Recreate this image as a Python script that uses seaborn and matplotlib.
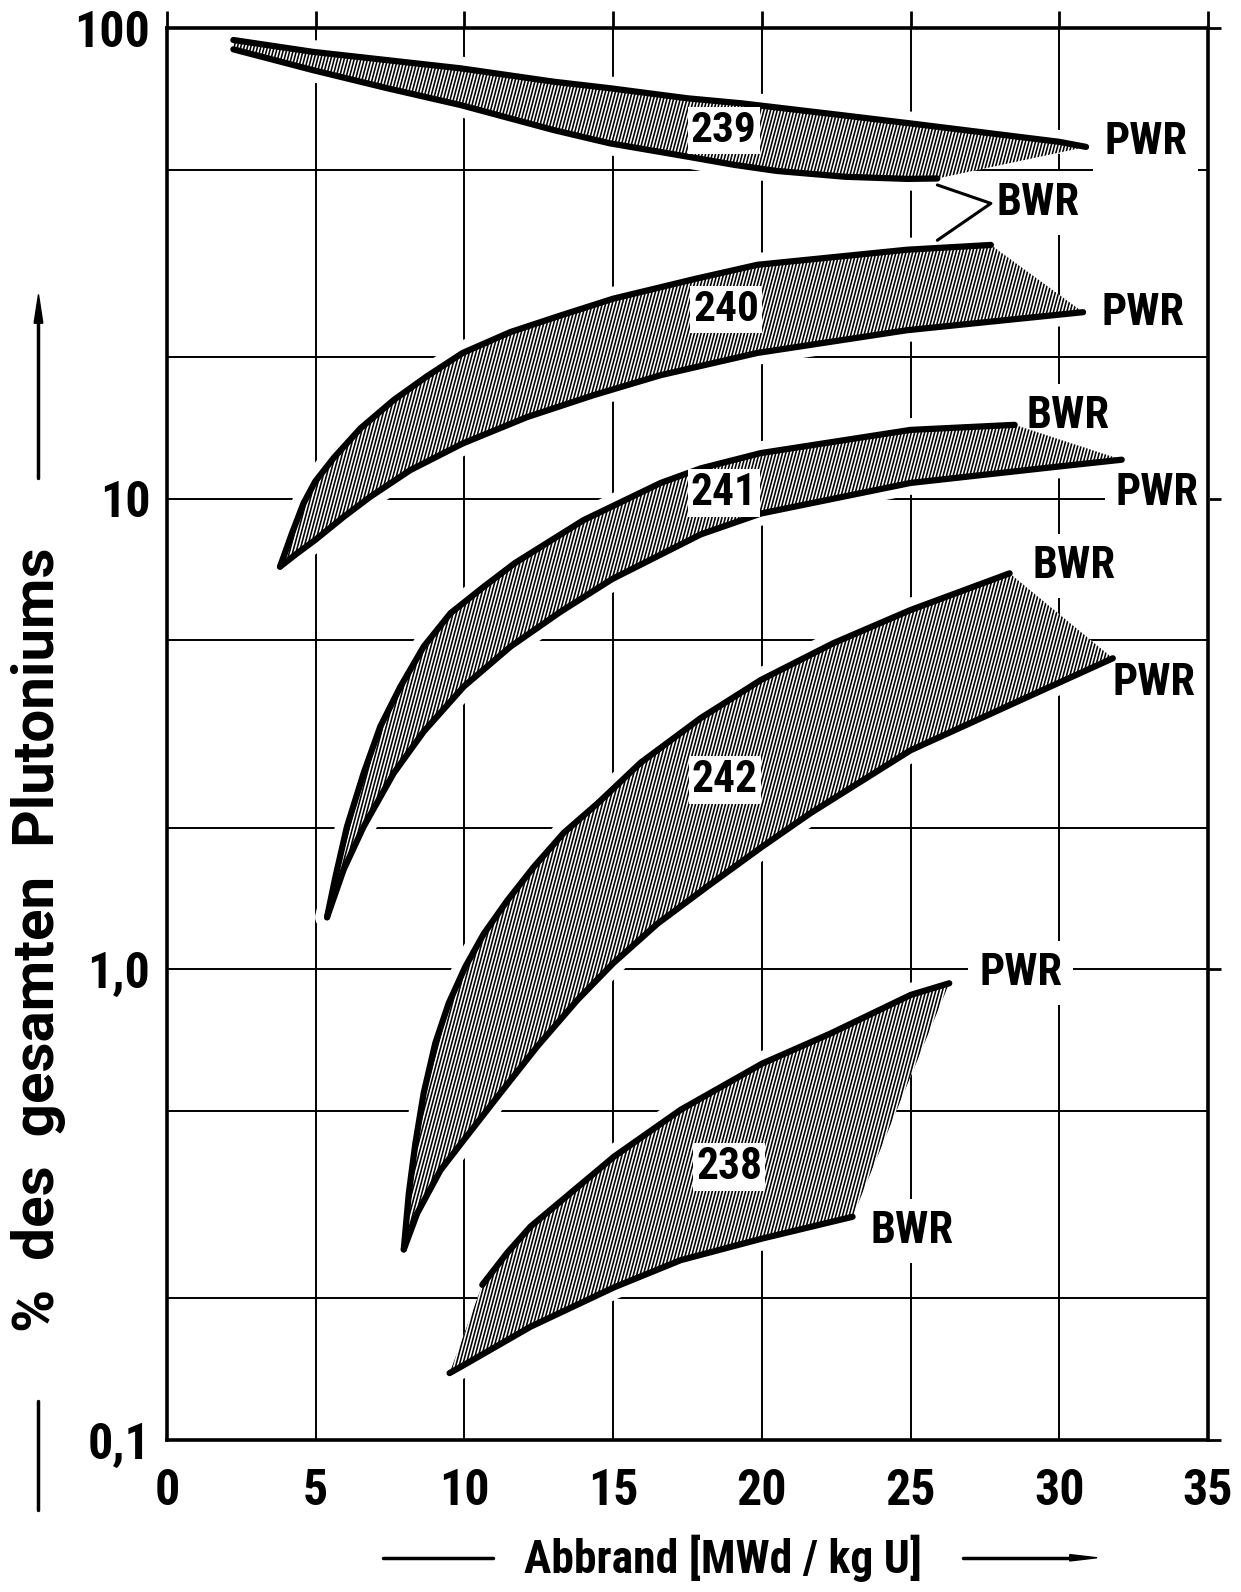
import numpy as np
import pandas as pd
import matplotlib
matplotlib.use("Agg")
import matplotlib.pyplot as plt
import seaborn as sns
import matplotlib.hatch as mhatch
from matplotlib import font_manager as fm
from matplotlib.path import Path
from matplotlib.ticker import FixedLocator, FixedFormatter, NullFormatter
from matplotlib.lines import Line2D

# ---------------- data ----------------
# Pu-239
x239_pwr = [2.23, 4.9, 9.87, 13.0, 14.88, 17.5, 19.3, 22.5, 25.0, 30.0, 30.9]
y239_pwr = [94.3, 89.0, 82.1, 76.9, 74.5, 70.9, 69.2, 65.5, 62.7, 57.3, 55.9]
x239_bwr = [2.23, 4.9, 7.4, 9.87, 13.0, 14.88, 17.5, 19.07, 20.5, 22.8, 24.9, 25.9]
y239_bwr = [90.1, 81.4, 74.5, 68.6, 60.7, 56.9, 53.3, 51.2, 49.7, 48.3, 47.8, 47.9]
# Pu-240
x240_bwr = [3.80, 4.2, 4.59, 4.98, 5.6, 6.5, 7.62, 8.74, 9.94, 11.55, 13.23, 15.0, 17.75, 19.85, 24.88, 27.7]
y240_bwr = [7.17, 8.44, 9.78, 10.87, 12.2, 14.1, 16.2, 18.2, 20.4, 22.6, 24.5, 26.6, 29.3, 31.4, 33.8, 34.6]
x240_pwr = [3.80, 4.37, 4.98, 5.94, 6.84, 8.18, 9.94, 12.1, 14.35, 16.6, 19.85, 24.88, 30.8]
y240_pwr = [7.17, 7.65, 8.17, 9.15, 10.1, 11.5, 13.1, 14.9, 16.6, 18.3, 20.4, 22.8, 24.9]
# Pu-241
x241_bwr = [5.38, 5.66, 6.05, 6.61, 7.17, 7.85, 8.63, 9.53, 10.65, 11.7, 14.0, 16.6, 17.95, 19.97, 25.0, 28.5]
y241_bwr = [1.29, 1.57, 2.01, 2.61, 3.28, 3.99, 4.85, 5.71, 6.5, 7.3, 9.0, 10.8, 11.6, 12.5, 14.0, 14.35]
x241_pwr = [5.38, 5.94, 6.61, 7.62, 8.63, 9.98, 11.55, 13.23, 14.97, 17.95, 19.97, 25.0, 29.96, 32.1]
y241_pwr = [1.29, 1.63, 2.01, 2.61, 3.2, 3.99, 4.85, 5.75, 6.75, 8.4, 9.3, 10.8, 11.7, 12.1]
# Pu-242
x242_bwr = [7.96, 8.13, 8.35, 8.63, 9.02, 9.47, 10.03, 10.65, 11.44, 12.33, 13.34, 14.47, 15.93, 17.95, 19.97, 22.4, 25.0, 28.33]
y242_bwr = [0.254, 0.3345, 0.427, 0.546, 0.697, 0.847, 1.013, 1.19, 1.40, 1.65, 1.95, 2.25, 2.75, 3.42, 4.12, 4.93, 5.8, 6.94]
x242_pwr = [7.96, 8.41, 9.19, 9.98, 11.21, 12.45, 13.8, 15.0, 16.49, 18.17, 20.0, 21.65, 25.0, 29.17, 31.8]
y242_pwr = [0.254, 0.303, 0.374, 0.434, 0.546, 0.686, 0.861, 1.03, 1.25, 1.5, 1.82, 2.15, 2.92, 3.85, 4.58]
# Pu-238
x238_pwr = [10.6, 11.44, 12.22, 15.03, 17.27, 20.02, 22.3, 25.0, 26.3]
y238_pwr = [0.2136, 0.25, 0.284, 0.40, 0.503, 0.631, 0.73, 0.882, 0.934]
x238_bwr = [9.5, 10.0, 12.22, 15.03, 17.27, 20.02, 23.05]
y238_bwr = [0.1387, 0.1445, 0.174, 0.211, 0.241, 0.268, 0.298]

isotopes = ["239", "240", "241", "242", "238"]
isotope_label_x = [18.72, 18.8, 18.72, 18.75, 18.9]
isotope_label_y = [60.7, 25.2, 10.26, 2.53, 0.381]

reactor_labels = ["PWR", "BWR", "PWR", "BWR", "PWR", "BWR", "PWR", "PWR", "BWR"]
reactor_label_x = [32.9, 29.3, 32.8, 30.3, 33.3, 30.5, 33.2, 28.7, 25.05]
reactor_label_y = [57.2, 42.5, 24.8, 14.96, 10.3, 7.2, 4.05, 0.983, 0.278]

bracket_x = [25.9, 27.7, 25.9]
bracket_y = [46.4, 42.4, 35.4]

xticks = [0, 5, 10, 15, 20, 25, 30, 35]
yticks = [0.1, 1, 10, 100]
ytick_labels = ["0,1", "1,0", "10", "100"]
ygrid_minor = [0.2, 0.5, 2, 5, 20, 50]

xlabel = "Abbrand [MWd / kg U]"
ylabel = "%  des  gesamten  Plutoniums"


# ---------------- slanted hatch (steep "/" lines like the original) ----------------
class SteepHatch(mhatch.HatchPatternBase):
    shift = 8

    def __init__(self, hatch, density):
        self.num_lines = int(hatch.count("|") * density)
        self.num_vertices = 2 * (self.num_lines + self.shift + 1) if self.num_lines else 0

    def set_vertices_and_codes(self, vertices, codes):
        n = self.num_lines
        ks = np.arange(-self.shift, n + 1)
        x0 = ks / n
        vertices[0::2, 0] = x0
        vertices[0::2, 1] = 0.0
        vertices[1::2, 0] = x0 + self.shift / n
        vertices[1::2, 1] = 1.0
        codes[0::2] = Path.MOVETO
        codes[1::2] = Path.LINETO


_orig_types = list(mhatch._hatch_types)
try:
    mhatch._hatch_types[mhatch._hatch_types.index(mhatch.VerticalHatch)] = SteepHatch
except Exception:
    pass

# ---------------- font choice: a condensed bold face if available ----------------
def _wnum(w):
    if isinstance(w, (int, float)):
        return w
    return fm.weight_dict.get(w, 400)


def _snum(s):
    if isinstance(s, (int, float)):
        return s
    return fm.stretch_dict.get(s, 500)


chosen = None
for pref in ["Roboto Condensed", "Liberation Sans Narrow", "Noto Sans", "Open Sans",
             "DejaVu Sans", "Roboto", "Inter"]:
    for f in fm.fontManager.ttflist:
        if f.name == pref and _wnum(f.weight) >= 600 and f.style == "normal" and \
                (_snum(f.stretch) < 500 or "Condensed" in f.name or "Narrow" in f.name):
            chosen = f
            break
    if chosen:
        break

sns.set_theme(style="white")
if chosen is not None:
    plt.rcParams["font.family"] = [chosen.name, "DejaVu Sans"]
    plt.rcParams["font.stretch"] = chosen.stretch
else:
    plt.rcParams["font.family"] = ["DejaVu Sans"]
plt.rcParams["font.weight"] = "bold"
plt.rcParams["text.color"] = "black"
plt.rcParams["xtick.color"] = "black"
plt.rcParams["ytick.color"] = "black"
plt.rcParams["hatch.linewidth"] = 1.15
plt.rcParams["hatch.color"] = "black"

wide_font = fm.FontProperties(family=["Roboto", "DejaVu Sans"], weight="bold",
                              stretch="normal", size=36)

fig = plt.figure(figsize=(12.41, 15.92), dpi=100)
ax = fig.add_axes([0.1346, 0.0955, 0.9734 - 0.1346, 0.9824 - 0.0955])
ax.set_yscale("log")
ax.set_xlim(0, 35)
ax.set_ylim(0.1, 100)

bands = [
    (x239_pwr, y239_pwr, x239_bwr, y239_bwr),
    (x240_bwr, y240_bwr, x240_pwr, y240_pwr),
    (x241_bwr, y241_bwr, x241_pwr, y241_pwr),
    (x242_bwr, y242_bwr, x242_pwr, y242_pwr),
    (x238_pwr, y238_pwr, x238_bwr, y238_bwr),
]

rows = []
for i, (xa, ya, xb, yb) in enumerate(bands):
    for xv, yv in zip(xa, ya):
        rows.append((f"{i}a", xv, yv))
    for xv, yv in zip(xb, yb):
        rows.append((f"{i}b", xv, yv))
df = pd.DataFrame(rows, columns=["curve", "x", "y"])

# white halo around the curves (breaks the grid next to them)
sns.lineplot(data=df, x="x", y="y", units="curve", estimator=None, sort=False,
             color="white", lw=17, ax=ax, zorder=2.5, legend=False)

# hatched bands
for xa, ya, xb, yb in bands:
    px = list(xa) + list(xb)[::-1]
    py = list(ya) + list(yb)[::-1]
    ax.fill(px, py, facecolor="white", edgecolor="black", linewidth=0,
            hatch="|||||", zorder=3)

# thick boundary curves
sns.lineplot(data=df, x="x", y="y", units="curve", estimator=None, sort=False,
             color="black", lw=4.5, ax=ax, zorder=4, legend=False)
for ln in ax.lines:
    ln.set_solid_capstyle("round")
    ln.set_solid_joinstyle("round")

# bracket for BWR
ax.plot(bracket_x, bracket_y, color="black", lw=2.2, zorder=4)

# labels
iso_texts = []
for t, xv, yv in zip(isotopes, isotope_label_x, isotope_label_y):
    iso_texts.append(ax.text(xv, yv, t, fontsize=34, fontweight="bold", ha="center",
                             va="center", zorder=6,
                             bbox=dict(boxstyle="square,pad=0.07", fc="white", ec="none")))
rea_texts = []
for t, xv, yv in zip(reactor_labels, reactor_label_x, reactor_label_y):
    rea_texts.append(ax.text(xv, yv, t, fontsize=36, fontweight="bold", ha="center",
                             va="center", zorder=2.8,
                             bbox=dict(boxstyle="square,pad=0.25", fc="white", ec="none")))

# axes, ticks, grid
ax.set_xticks(xticks)
ax.set_xticklabels([str(v) for v in xticks])
ax.yaxis.set_major_locator(FixedLocator(yticks))
ax.yaxis.set_major_formatter(FixedFormatter(ytick_labels))
ax.yaxis.set_minor_locator(FixedLocator(ygrid_minor))
ax.yaxis.set_minor_formatter(NullFormatter())
ax.set_axisbelow(True)
ax.grid(True, axis="x", which="major", color="black", lw=1.4)
ax.grid(True, axis="y", which="both", color="black", lw=1.4)
ax.tick_params(axis="both", which="major", direction="out", color="black",
               width=2, labelsize=36, labelcolor="black",
               top=True, right=True, labeltop=False, labelright=False)
ax.tick_params(axis="x", which="major", length=12, pad=8)
ax.tick_params(axis="y", which="major", length=9, pad=3)
ax.tick_params(axis="y", which="minor", length=0)
for s in ax.spines.values():
    s.set_color("black")
    s.set_linewidth(2.6)
    s.set_zorder(7)
ax.set_xlabel("")
ax.set_ylabel("")

# axis titles with dash/arrow decorations
xl = fig.text(0.5826, 0.021, xlabel, fontsize=36, fontweight="bold",
              ha="center", va="center")
fig.add_artist(Line2D([0.309, 0.397], [0.0215, 0.0215], color="black", lw=2.5))
fig.add_artist(Line2D([0.776, 0.865], [0.0215, 0.0215], color="black", lw=2.5))
fig.add_artist(plt.Polygon([[0.862, 0.0195], [0.862, 0.0235], [0.884, 0.0215]],
                           closed=True, color="black"))

yl = fig.text(0.031, 0.410, ylabel, fontproperties=wide_font, rotation=90,
              ha="center", va="center")
fig.add_artist(Line2D([0.031, 0.031], [0.0515, 0.120], color="black", lw=2.5))
fig.add_artist(Line2D([0.031, 0.031], [0.700, 0.800], color="black", lw=2.5))
fig.add_artist(plt.Polygon([[0.0275, 0.797], [0.0345, 0.797], [0.031, 0.815]],
                           closed=True, color="black"))

# fit text sizes to the widths seen in the original (condensed lettering)
fig.canvas.draw()
rend = fig.canvas.get_renderer()


def fitted(txt, target_px, cap):
    ext = txt.get_window_extent(rend)
    w = ext.height if txt.get_rotation() == 90 else ext.width
    return min(cap, txt.get_fontsize() * target_px / max(w, 1))


for t in iso_texts:
    t.set_fontsize(fitted(t, 66, 40))
for t in rea_texts:
    t.set_fontsize(fitted(t, 83, 40))
xl.set_fontsize(fitted(xl, 398, 40))
yl.set_fontsize(fitted(yl, 845, 42))
probe = fig.text(0, 0, "100", fontsize=36, fontweight="bold")
tick_size = fitted(probe, 76, 40)
probe.remove()
ax.tick_params(axis="both", which="major", labelsize=tick_size)

try:
    fig.savefig("out.png", dpi=100, facecolor="white")
except Exception:
    mhatch._hatch_types[:] = _orig_types
    fig.savefig("out.png", dpi=100, facecolor="white")
